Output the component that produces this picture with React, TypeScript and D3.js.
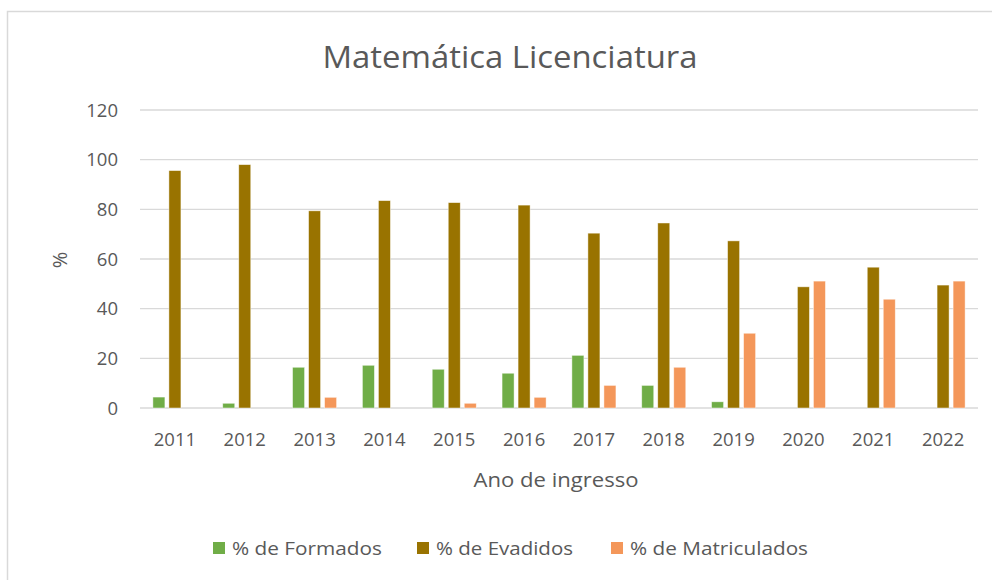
import * as d3 from 'd3';

const years = ['2011', '2012', '2013', '2014', '2015', '2016', '2017', '2018', '2019', '2020', '2021', '2022'];
const formados = [4.4, 1.9, 16.4, 17.2, 15.6, 14.0, 21.2, 9.1, 2.5, 0, 0, 0];
const evadidos = [95.6, 98.0, 79.4, 83.5, 82.7, 81.7, 70.4, 74.5, 67.3, 48.8, 56.7, 49.5];
const matriculados = [0, 0, 4.3, 0, 1.9, 4.3, 9.1, 16.4, 30.1, 51.1, 43.8, 51.1];
const seriesNames = ['% de Formados', '% de Evadidos', '% de Matriculados'];
const seriesColors = ['#70AD47', '#997300', '#F4975A'];
const yTicks = [0, 20, 40, 60, 80, 100, 120];

const font = "'Open Sans', sans-serif";
const textColor = '#595959';

export default function App() {
  const W = 992;
  const H = 580;
  const plot = { left: 140, right: 978, top: 110, bottom: 408 };

  const series = [formados, evadidos, matriculados];

  const x0 = d3.scaleBand<string>()
    .domain(years)
    .range([plot.left, plot.right])
    .paddingInner(0.312)
    .paddingOuter(0.156);

  const x1 = d3.scaleBand<number>()
    .domain([0, 1, 2])
    .range([0, x0.bandwidth()])
    .paddingInner(0.25)
    .paddingOuter(0.125);

  const y = d3.scaleLinear().domain([0, 120]).range([plot.bottom, plot.top]);

  const catCenter = (yr: string) => (x0(yr) ?? 0) + x0.bandwidth() / 2;

  // legend layout (swatch x, text width)
  const legendX = [213, 417, 611];
  const legendW = [150, 137, 178];

  return (
    <svg width={W} height={H} style={{ position: 'absolute', left: 0, top: 0 }}>
      <rect x={0} y={0} width={W} height={H} fill="#fff" />
      <rect x={7.5} y={11.5} width={W + 10} height={H + 10} fill="none" stroke="#d9d9d9" strokeWidth={1.5} />

      <text x={510} y={68} textAnchor="middle" fill={textColor} fontFamily={font} fontSize={31}
        textLength={375} lengthAdjust="spacingAndGlyphs">
        Matemática Licenciatura
      </text>

      {/* grid */}
      {yTicks.map(t => (
        <g key={t}>
          <line x1={plot.left} x2={plot.right} y1={y(t)} y2={y(t)} stroke="#d9d9d9" strokeWidth={1.3} />
          <text x={118} y={y(t)} dy="0.36em" textAnchor="end" fill={textColor} fontFamily={font} fontSize={18.5}>
            {t}
          </text>
        </g>
      ))}

      {/* bars */}
      {series.map((vals, si) =>
        vals.map((v, i) =>
          v > 0 ? (
            <rect
              key={`${si}-${i}`}
              x={(x0(years[i]) ?? 0) + (x1(si) ?? 0)}
              y={y(v)}
              width={x1.bandwidth()}
              height={y(0) - y(v)}
              fill={seriesColors[si]}
              stroke="#fff"
              strokeOpacity={0.6}
              strokeWidth={0.75}
            />
          ) : null
        )
      )}

      {/* x labels */}
      {years.map(yr => (
        <text key={yr} x={catCenter(yr)} y={446} textAnchor="middle" fill={textColor} fontFamily={font} fontSize={18.5}>
          {yr}
        </text>
      ))}

      <text x={556} y={487} textAnchor="middle" fill={textColor} fontFamily={font} fontSize={20}
        textLength={165} lengthAdjust="spacingAndGlyphs">
        Ano de ingresso
      </text>

      <text transform={`translate(67, 260) rotate(-90)`} textAnchor="middle" fill={textColor} fontFamily={font} fontSize={20}>
        %
      </text>

      {/* legend */}
      {seriesNames.map((name, i) => (
        <g key={name}>
          <rect x={legendX[i]} y={542} width={12} height={12} fill={seriesColors[i]} />
          <text x={legendX[i] + 19} y={555} fill={textColor} fontFamily={font} fontSize={19}
            textLength={legendW[i]} lengthAdjust="spacingAndGlyphs">
            {name}
          </text>
        </g>
      ))}
    </svg>
  );
}
